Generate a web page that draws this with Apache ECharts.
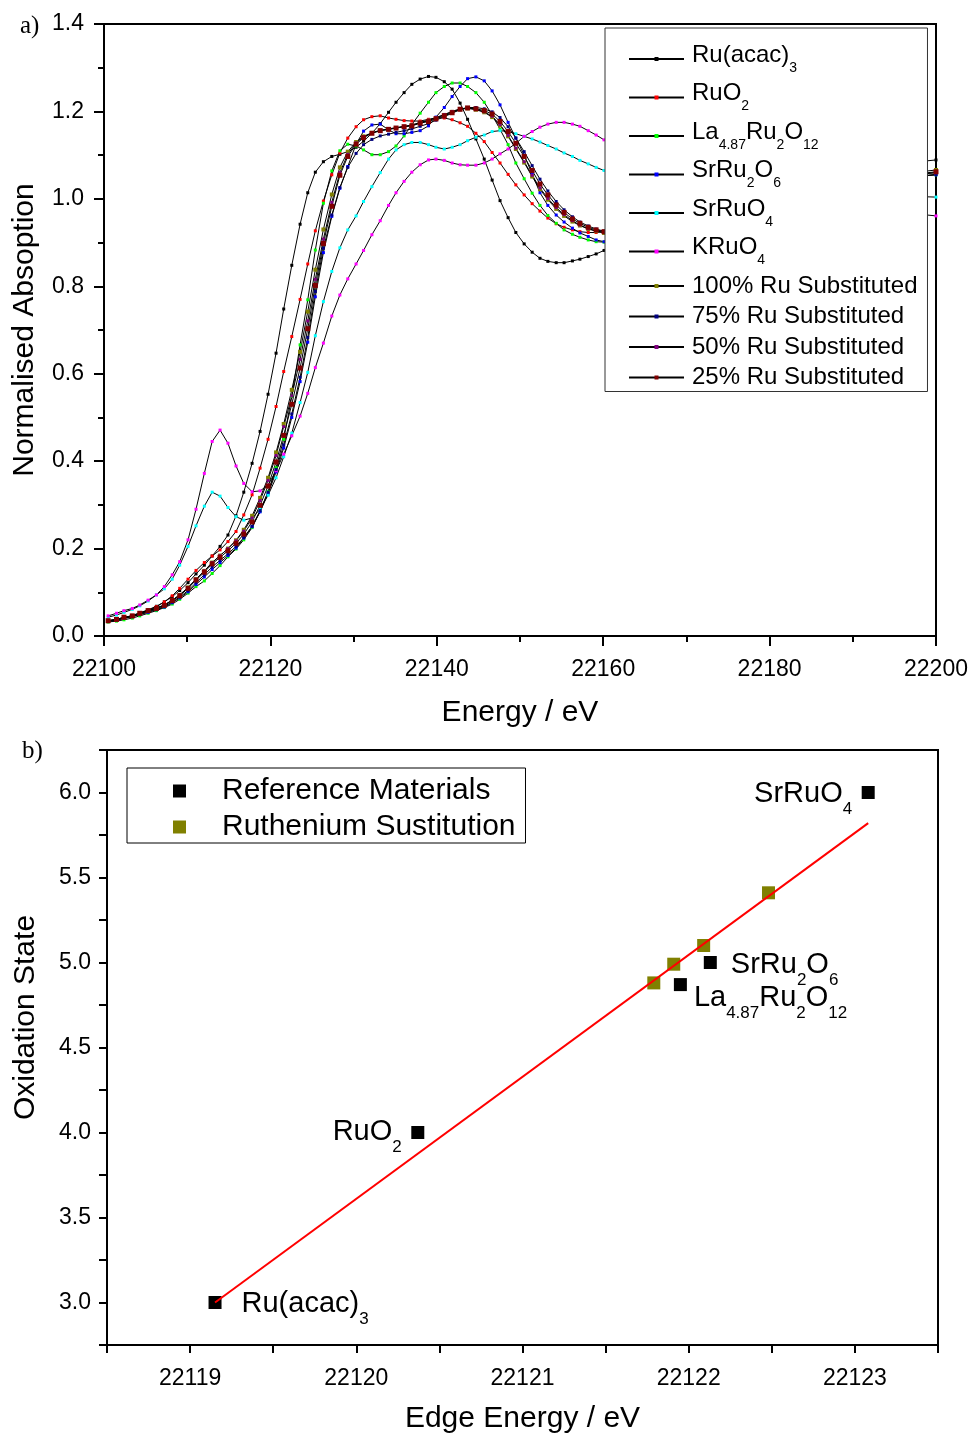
<!DOCTYPE html>
<html><head><meta charset="utf-8">
<script src="https://cdn.jsdelivr.net/npm/echarts@6/dist/echarts.min.js"></script>
<style>html,body{margin:0;padding:0;background:#fff}#c{width:973px;height:1436px}</style>
</head><body><div id="c"></div>
<script>
// ---------- panel a) data ----------
const energy = [22100.5,22101.5,22102.4,22103.4,22104.3,22105.3,22106.3,22107.25,22108.2,22109.1,
22110.1,22111.06,22112.06,22113.0,22113.95,22114.9,22115.87,22116.8,22117.8,22118.76,
22119.72,22120.68,22121.6,22122.57,22123.57,22124.49,22125.4,22126.37,22127.38,22128.35,
22129.3,22130.3,22131.2,22132.2,22133.2,22134.2,22135.1,22136.07,22137.0,22138.0,
22139.0,22139.9,22140.9,22141.84,22142.8,22143.7,22144.7,22145.7,22146.65,22147.6,
22148.57,22149.5,22150.5,22151.46,22152.4,22153.35,22154.35,22155.3,22156.3,22157.2,
22158.2,22159.15,22160.1,22170,22180,22190,22200];
const ruAcac = [0.035,0.038,0.042,0.047,0.053,0.060,0.068,0.078,0.090,0.104,
0.122,0.142,0.162,0.183,0.205,0.231,0.275,0.329,0.395,0.468,
0.553,0.647,0.748,0.848,0.942,1.014,1.061,1.085,1.097,1.102,
1.108,1.118,1.132,1.150,1.172,1.198,1.221,1.243,1.262,1.274,
1.280,1.278,1.268,1.251,1.219,1.182,1.137,1.091,1.043,0.996,
0.957,0.923,0.897,0.878,0.864,0.857,0.854,0.854,0.858,0.862,
0.868,0.874,0.882,0.95,1.02,1.07,1.089];
const ruO2 = [0.034,0.037,0.041,0.046,0.052,0.059,0.067,0.078,0.092,0.109,
0.130,0.150,0.168,0.183,0.197,0.216,0.239,0.277,0.323,0.384,
0.450,0.525,0.605,0.685,0.770,0.851,0.927,0.995,1.055,1.105,
1.139,1.165,1.181,1.188,1.190,1.185,1.182,1.179,1.178,1.178,
1.182,1.185,1.185,1.181,1.174,1.166,1.150,1.131,1.106,1.082,
1.056,1.032,1.009,0.989,0.972,0.956,0.943,0.935,0.929,0.925,
0.923,0.923,0.925,0.96,1.01,1.045,1.06];
const laRuO = [0.032,0.034,0.037,0.041,0.046,0.052,0.058,0.065,0.073,0.084,
0.098,0.113,0.126,0.143,0.161,0.181,0.199,0.220,0.248,0.285,
0.330,0.385,0.450,0.548,0.666,0.769,0.883,0.990,1.064,1.110,
1.125,1.121,1.112,1.101,1.101,1.108,1.121,1.144,1.170,1.196,
1.221,1.243,1.257,1.265,1.265,1.257,1.243,1.221,1.192,1.159,
1.124,1.082,1.046,1.013,0.985,0.962,0.944,0.929,0.919,0.912,
0.906,0.902,0.901,0.95,1.0,1.04,1.055];
const srRu2O6 = [0.033,0.036,0.040,0.044,0.049,0.054,0.060,0.066,0.076,0.087,
0.101,0.118,0.135,0.152,0.168,0.184,0.201,0.224,0.250,0.284,
0.325,0.375,0.430,0.500,0.582,0.672,0.776,0.877,0.960,1.024,
1.074,1.125,1.155,1.169,1.171,1.158,1.149,1.149,1.152,1.156,
1.167,1.187,1.209,1.234,1.257,1.275,1.279,1.270,1.247,1.215,
1.175,1.139,1.100,1.057,1.014,0.985,0.963,0.947,0.933,0.922,
0.914,0.906,0.902,0.95,1.0,1.04,1.055];
const srRuO4 = [0.043,0.048,0.054,0.061,0.069,0.080,0.094,0.108,0.130,0.162,
0.205,0.252,0.297,0.329,0.320,0.294,0.273,0.265,0.270,0.290,
0.322,0.362,0.410,0.464,0.534,0.603,0.687,0.765,0.834,0.888,
0.929,0.961,0.994,1.028,1.060,1.091,1.112,1.124,1.129,1.129,
1.124,1.118,1.114,1.118,1.124,1.133,1.141,1.146,1.154,1.156,
1.154,1.149,1.143,1.137,1.130,1.122,1.114,1.105,1.097,1.088,
1.080,1.072,1.065,1.04,1.02,1.01,1.004];
const kRuO4 = [0.046,0.052,0.058,0.063,0.071,0.082,0.094,0.113,0.140,0.170,
0.220,0.290,0.372,0.445,0.471,0.441,0.389,0.349,0.330,0.332,
0.345,0.378,0.416,0.458,0.503,0.555,0.614,0.670,0.732,0.780,
0.817,0.851,0.882,0.918,0.950,0.985,1.014,1.040,1.061,1.078,
1.089,1.091,1.088,1.082,1.078,1.077,1.077,1.082,1.091,1.103,
1.114,1.127,1.143,1.154,1.164,1.171,1.175,1.175,1.171,1.166,
1.156,1.146,1.135,1.07,1.02,0.98,0.961];
const sub100 = [0.034,0.038,0.042,0.046,0.052,0.058,0.064,0.071,0.082,0.094,
0.111,0.130,0.149,0.168,0.184,0.200,0.219,0.243,0.275,0.316,
0.362,0.420,0.485,0.563,0.650,0.742,0.838,0.930,1.010,1.072,
1.108,1.130,1.143,1.151,1.156,1.159,1.162,1.165,1.168,1.174,
1.179,1.185,1.192,1.199,1.205,1.207,1.204,1.198,1.187,1.168,
1.143,1.114,1.083,1.051,1.022,0.998,0.977,0.961,0.948,0.939,
0.931,0.926,0.922,0.95,1.0,1.045,1.066];
const sub75 = [0.034,0.037,0.041,0.045,0.050,0.056,0.061,0.068,0.078,0.089,
0.104,0.122,0.140,0.158,0.173,0.188,0.205,0.225,0.251,0.287,
0.329,0.381,0.437,0.508,0.592,0.683,0.788,0.887,0.963,1.026,
1.072,1.104,1.124,1.136,1.144,1.148,1.152,1.156,1.160,1.166,
1.172,1.180,1.188,1.196,1.204,1.209,1.209,1.206,1.199,1.186,
1.165,1.139,1.108,1.076,1.045,1.018,0.994,0.975,0.959,0.947,
0.938,0.931,0.926,0.95,0.995,1.035,1.056];
const sub50 = [0.035,0.038,0.042,0.046,0.052,0.058,0.064,0.071,0.082,0.094,
0.111,0.130,0.149,0.168,0.184,0.200,0.218,0.240,0.270,0.310,
0.356,0.413,0.479,0.549,0.633,0.721,0.816,0.908,0.992,1.060,
1.102,1.128,1.142,1.151,1.157,1.160,1.163,1.166,1.169,1.175,
1.180,1.186,1.193,1.200,1.206,1.208,1.205,1.199,1.189,1.170,
1.145,1.116,1.085,1.054,1.025,1.001,0.980,0.964,0.950,0.940,
0.932,0.927,0.923,0.95,1.0,1.04,1.06];
const sub25 = [0.035,0.038,0.043,0.046,0.052,0.058,0.063,0.070,0.081,0.092,
0.109,0.128,0.146,0.165,0.180,0.195,0.212,0.233,0.261,0.299,
0.343,0.398,0.459,0.530,0.613,0.703,0.802,0.898,0.983,1.054,
1.097,1.125,1.140,1.150,1.156,1.159,1.162,1.165,1.167,1.173,
1.177,1.183,1.190,1.197,1.205,1.208,1.206,1.202,1.194,1.177,
1.154,1.127,1.097,1.065,1.034,1.009,0.986,0.969,0.954,0.944,
0.935,0.929,0.925,0.95,1.0,1.04,1.062];
const seriesNamesA = ['Ru(acac)3','RuO2','La4.87Ru2O12','SrRu2O6','SrRuO4','KRuO4',
  '100% Ru Substituted','75% Ru Substituted','50% Ru Substituted','25% Ru Substituted'];
const seriesValuesA = [ruAcac, ruO2, laRuO, srRu2O6, srRuO4, kRuO4, sub100, sub75, sub50, sub25];
const yTicksA = [0,0.2,0.4,0.6,0.8,1.0,1.2,1.4];

// ---------- panel b) data ----------
const refNames = ['Ru(acac)3','RuO2','La4.87Ru2O12','SrRu2O6','SrRuO4'];
const refEdge = [22119.15, 22120.37, 22121.95, 22122.13, 22123.08];
const refOx = [3.0, 4.0, 4.87, 5.0, 6.0];
const subEdge = [22121.79, 22121.91, 22122.09, 22122.48];
const subOx = [4.88, 4.99, 5.10, 5.41];
const fitEdge = [22119.15, 22123.08];
const fitOx = [3.0, 5.82];

// ---------- styling ----------
const FONT = 'Liberation Sans, Arial, sans-serif';
const colorsA = ['#000000','#ff0000','#00ff00','#0000ff','#00ffff','#ff00ff','#808000','#000080','#800080','#800000'];
const sizesA = [3,3,3,3,3,3,4,3,3,5];
const richLegend = {
  n: {fontFamily: FONT, fontSize: 24, lineHeight: 24, verticalAlign: 'top', color: '#000'},
  s: {fontFamily: FONT, fontSize: 14, lineHeight: 14, verticalAlign: 'bottom', color: '#000'},
  h: {fontFamily: FONT, fontSize: 2, lineHeight: 32, verticalAlign: 'middle', color: '#000'}
};
const richLabel = {
  n: {fontFamily: FONT, fontSize: 29, lineHeight: 30, verticalAlign: 'top', color: '#000'},
  s: {fontFamily: FONT, fontSize: 17, lineHeight: 17, verticalAlign: 'bottom', color: '#000'},
  h: {fontFamily: FONT, fontSize: 2, lineHeight: 38, verticalAlign: 'middle', color: '#000'}
};
const richText = {
  'Ru(acac)3': '{n|Ru(acac)}{s|3}{h| }',
  'RuO2': '{n|RuO}{s|2}{h| }',
  'La4.87Ru2O12': '{n|La}{s|4.87}{n|Ru}{s|2}{n|O}{s|12}{h| }',
  'SrRu2O6': '{n|SrRu}{s|2}{n|O}{s|6}{h| }',
  'SrRuO4': '{n|SrRuO}{s|4}{h| }',
  'KRuO4': '{n|KRuO}{s|4}{h| }'
};
const rt = name => richText[name] || ('{n|' + name + '}');

const chart = echarts.init(document.getElementById('c'), null, {renderer: 'canvas'});

const seriesA = seriesNamesA.map((name, k) => ({
  type: 'line', name: name, xAxisIndex: 0, yAxisIndex: 0,
  data: energy.map((e, i) => [e, seriesValuesA[k][i]]),
  symbol: 'rect', symbolSize: sizesA[k], showSymbol: true, showAllSymbol: true,
  lineStyle: {color: '#000', width: 1},
  itemStyle: {color: colorsA[k], opacity: 1},
  emphasis: {disabled: true},
  animation: false, z: 2
}));

const labelCfg = [
  {position: 'right', distance: 20, offset: [0, 6]},
  {position: 'left', distance: 9, offset: [0, 4]},
  {position: 'right', distance: 7, offset: [0, 18]},
  {position: 'right', distance: 14, offset: [0, 7]},
  {position: 'left', distance: 9, offset: [0, 6]}
];

const seriesB = [
  {
    type: 'scatter', name: 'Reference Materials', xAxisIndex: 1, yAxisIndex: 1,
    symbol: 'rect', symbolSize: 13, itemStyle: {color: '#000', opacity: 1},
    data: refEdge.map((e, i) => ({
      value: [e, refOx[i]],
      label: Object.assign({show: true, formatter: rt(refNames[i]), rich: richLabel, color: '#000'}, labelCfg[i])
    })),
    emphasis: {disabled: true}, animation: false, z: 2
  },
  {
    type: 'scatter', name: 'Ruthenium Sustitution', xAxisIndex: 1, yAxisIndex: 1,
    symbol: 'rect', symbolSize: 13, itemStyle: {color: '#808000', opacity: 1},
    data: subEdge.map((e, i) => [e, subOx[i]]),
    emphasis: {disabled: true}, animation: false, z: 2
  },
  {
    type: 'line', name: 'fit', xAxisIndex: 1, yAxisIndex: 1,
    data: fitEdge.map((e, i) => [e, fitOx[i]]),
    symbol: 'none', lineStyle: {color: '#ff0000', width: 2},
    emphasis: {disabled: true}, animation: false, z: 3
  }
];

const axisLineStyle = {show: true, lineStyle: {color: '#000', width: 2}};

chart.setOption({
  animation: false,
  backgroundColor: '#fff',
  title: [
    {text: 'a)', left: 15, top: 9, textStyle: {fontFamily: 'Liberation Serif, Times New Roman, serif', fontSize: 25, fontWeight: 'normal', color: '#000'}},
    {text: 'b)', left: 17, top: 734, textStyle: {fontFamily: 'Liberation Serif, Times New Roman, serif', fontSize: 25, fontWeight: 'normal', color: '#000'}}
  ],
  grid: [
    {left: 104, right: 37, top: 24, height: 612, show: true, borderColor: '#000', borderWidth: 2, backgroundColor: 'transparent'},
    {left: 107, right: 35, top: 750, height: 595, show: true, borderColor: '#000', borderWidth: 2, backgroundColor: 'transparent'}
  ],
  xAxis: [
    {
      type: 'value', gridIndex: 0, min: 22100, max: 22200, interval: 20,
      name: 'Energy / eV', nameLocation: 'middle', nameGap: 62,
      nameTextStyle: {fontFamily: FONT, fontSize: 30, color: '#000'},
      axisLine: axisLineStyle,
      axisTick: {show: true, length: 10, lineStyle: {color: '#000', width: 2}},
      minorTick: {show: true, splitNumber: 2, length: 6, lineStyle: {color: '#000', width: 2}},
      axisLabel: {fontFamily: FONT, fontSize: 23, color: '#000', margin: 22, formatter: v => String(Math.round(v))},
      splitLine: {show: false}
    },
    {
      type: 'value', gridIndex: 1, min: 22118.5, max: 22123.5, interval: 0.5,
      name: 'Edge Energy / eV', nameLocation: 'middle', nameGap: 59,
      nameTextStyle: {fontFamily: FONT, fontSize: 30, color: '#000'},
      axisLine: axisLineStyle,
      axisTick: {show: true, length: 8, lineStyle: {color: '#000', width: 2}},
      axisLabel: {fontFamily: FONT, fontSize: 23, color: '#000', margin: 22,
        formatter: v => Math.abs(v - Math.round(v)) < 1e-6 ? String(Math.round(v)) : ''},
      splitLine: {show: false}
    }
  ],
  yAxis: [
    {
      type: 'value', gridIndex: 0, min: yTicksA[0], max: yTicksA[yTicksA.length - 1], interval: 0.2,
      name: 'Normalised Absoption', nameLocation: 'middle', nameGap: 64, nameRotate: 90,
      nameTextStyle: {fontFamily: FONT, fontSize: 30, color: '#000'},
      axisLine: axisLineStyle,
      axisTick: {show: true, length: 10, lineStyle: {color: '#000', width: 2}},
      minorTick: {show: true, splitNumber: 2, length: 6, lineStyle: {color: '#000', width: 2}},
      axisLabel: {fontFamily: FONT, fontSize: 23, color: '#000', margin: 20, formatter: v => v.toFixed(1)},
      splitLine: {show: false}
    },
    {
      type: 'value', gridIndex: 1, min: 2.75, max: 6.25, interval: 0.25,
      name: 'Oxidation State', nameLocation: 'middle', nameGap: 66, nameRotate: 90,
      nameTextStyle: {fontFamily: FONT, fontSize: 30, color: '#000', padding: [0, 0, 0, 60]},
      axisLine: axisLineStyle,
      axisTick: {show: true, length: 8, lineStyle: {color: '#000', width: 2}},
      axisLabel: {fontFamily: FONT, fontSize: 23, color: '#000', margin: 16,
        formatter: v => Math.abs(v * 2 - Math.round(v * 2)) < 1e-6 ? v.toFixed(1) : ''},
      splitLine: {show: false}
    }
  ],
  legend: [
    {
      orient: 'vertical', left: 605, top: 28,
      data: seriesNamesA,
      itemWidth: 55, itemHeight: 5, itemGap: 6.5,
      padding: [15, 10, 2, 23],
      backgroundColor: '#fff', borderColor: '#333', borderWidth: 1,
      selectedMode: false,
      formatter: name => rt(name),
      textStyle: {fontFamily: FONT, fontSize: 24, color: '#000', rich: richLegend, padding: [0,0,0,3]}
    },
    {
      orient: 'vertical', left: 127, top: 768,
      data: ['Reference Materials', 'Ruthenium Sustitution'],
      icon: 'rect', itemWidth: 13, itemHeight: 13, itemGap: 6,
      padding: [8, 10, 1, 46],
      backgroundColor: '#fff', borderColor: '#000', borderWidth: 1,
      selectedMode: false,
      itemStyle: {opacity: 1},
      textStyle: {fontFamily: FONT, fontSize: 30, color: '#000', padding: [0, 0, 0, 31]}
    }
  ],
  series: seriesA.concat(seriesB)
});
</script>
</body></html>
